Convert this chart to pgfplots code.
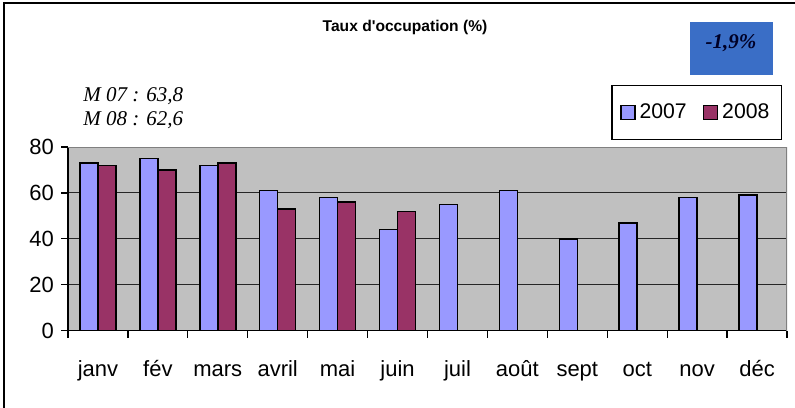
\documentclass[border=0pt]{standalone}
\usepackage{fontspec}
\setmainfont{Liberation Serif}
\setsansfont{Liberation Sans}
\usepackage{pgfplots}
\pgfplotsset{compat=1.18}
\definecolor{c07}{HTML}{9999FF}
\definecolor{c08}{HTML}{993366}
\definecolor{plotbg}{HTML}{C0C0C0}
\definecolor{badge}{HTML}{3A6EC6}

\begin{document}
\begin{tikzpicture}
\useasboundingbox (0,0) rectangle (397.5pt,203.5pt);
% outer chart frame (right/bottom edges fall outside the picture)
\draw[line width=0.6pt] (2pt,-2pt) -- (2pt,202pt) -- (400pt,202pt);

\node[font=\sffamily\bfseries\fontsize{7.8}{9}\selectfont] at (202.5pt,190pt) {Taux d\textquotesingle occupation (\%)};
\fill[badge] (345pt,166pt) rectangle (386.5pt,192.5pt);
\node[font=\bfseries\itshape\fontsize{10.5}{12}\selectfont, text=black!85!blue] at (365.5pt,182pt) {-1,9\%};
\node[anchor=base west, font=\itshape\fontsize{10.5}{12}\selectfont, inner sep=0pt] at (41.5pt,152.5pt) {M 07 : 63,8};
\node[anchor=base west, font=\itshape\fontsize{10.5}{12}\selectfont, inner sep=0pt] at (41.5pt,140.5pt) {M 08 : 62,6};

\begin{axis}[
    at={(34pt,38.15pt)}, anchor=south west,
    scale only axis, width=359.5pt, height=91.85pt,
    ybar=0pt, bar width=9pt,
    every axis plot post/.append style={
        legend image code/.code={\draw[##1, line width=0.75pt] (0pt,-3.5pt) rectangle (7pt,3.5pt);}},
    xmin=-0.5, xmax=11.5, ymin=0, ymax=80,
    axis x line*=bottom, axis y line*=left,
    axis line style={black, line width=0.6pt},
    xtick={0,...,11},
    xticklabels={janv,fév,mars,avril,mai,juin,juil,août,sept,oct,nov,déc},
    minor xtick={-0.5,0.5,...,11.5},
    major x tick style={draw=none},
    ytick={0,20,...,80},
    tick align=outside, major tick length=3.5pt, minor tick length=3.5pt,
    tick style={black, line width=0.6pt},
    ymajorgrids, grid style={black!85, line width=0.5pt},
    axis background/.style={fill=plotbg},
    /pgf/number format/assume math mode=true,
    ticklabel style={font=\sffamily\fontsize{11}{13}\selectfont},
    xticklabel style={yshift=-8pt, text height=8pt, text depth=2.5pt},
    legend columns=2,
    legend style={at={(0.993,1)}, anchor=south east, yshift=3.5pt,
        inner xsep=4pt, inner ysep=7pt,
        draw=black, line width=0.6pt, font=\sffamily\fontsize{10.6}{12}\selectfont,
        /tikz/every even column/.append style={column sep=6pt}},
]
\addplot[fill=c07, draw=black, line width=0.75pt] coordinates {
    (0,73) (1,75) (2,72) (3,61) (4,58) (5,44) (6,55) (7,61) (8,40) (9,47) (10,58) (11,59)
};
\addplot[fill=c08, draw=black, line width=0.75pt] coordinates {
    (0,72) (1,70) (2,73) (3,53) (4,56) (5,52)
};
\legend{2007,2008}
\draw[gray, line width=0.6pt] (rel axis cs:0,1) -- (rel axis cs:1,1) -- (rel axis cs:1,0);
\end{axis}
\end{tikzpicture}
\end{document}
